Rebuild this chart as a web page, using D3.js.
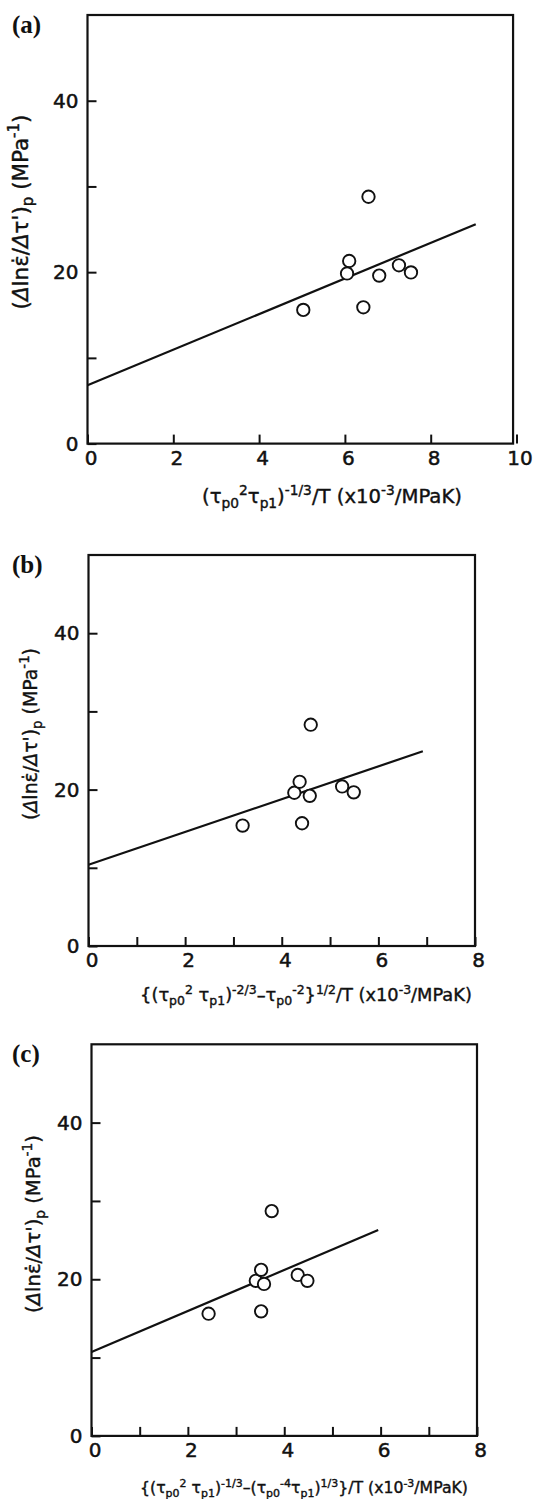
<!DOCTYPE html>
<html>
<head>
<meta charset="utf-8">
<script src="https://cdn.jsdelivr.net/npm/d3@7"></script>
<style>
  html, body { margin: 0; padding: 0; background: #fff; }
  svg { display: block; }
  .tick text { font-family: "DejaVu Sans", sans-serif; font-size: 20px; fill: #111; stroke: #111; stroke-width: 0.5px; }
  .tick line { stroke: #111; stroke-width: 2; }
  .title { stroke: #111; stroke-width: 0.4px; }
</style>
</head>
<body>
<div id="chart"></div>
<script>
// panel (a)
const xA = [5.03, 6.10, 6.05, 6.43, 6.55, 6.80, 7.26, 7.54];
const yA = [15.6, 21.3, 19.85, 15.9, 28.8, 19.6, 20.8, 19.97];
const fitXA = [0, 9.05];
const fitYA = [6.8, 25.6];

// panel (b)
const xB = [3.19, 4.26, 4.37, 4.58, 4.42, 4.60, 5.25, 5.49];
const yB = [15.4, 19.6, 21.0, 19.2, 15.7, 28.3, 20.4, 19.65];
const fitXB = [0, 6.92];
const fitYB = [10.4, 24.9];

// panel (c)
const xC = [2.43, 3.52, 3.41, 3.52, 3.58, 3.74, 4.28, 4.48];
const yC = [15.6, 15.9, 19.8, 21.2, 19.4, 28.7, 20.55, 19.8];
const fitXC = [0, 5.95];
const fitYC = [10.7, 26.3];

// ticks
const xTicksA = [0, 2, 4, 6, 8, 10];
const xTicksBC = [0, 1, 2, 3, 4, 5, 6, 7, 8];
const yTicks = [0, 10, 20, 30, 40];
const yTickLabels = [0, 20, 40];
const yTop = 50;

// axis titles as [text, kind] runs
const yTitle = [["(", ""], ["Δ", "i"], ["lnε̇/", ""], ["Δ", "i"], ["τ'", ""], [")", ""], ["p", "sub"], [" (MPa", ""], ["-1", "sup"], [")", ""]];
const xTitleA = [["(τ", ""], ["p0", "sub"], ["2", "sup"], ["τ", ""], ["p1", "sub"], [")", ""], ["-1/3", "sup"], ["/T (x10", ""], ["-3", "sup"], ["/MPaK)", ""]];
const xTitleB = [["{(τ", ""], ["p0", "sub"], ["2", "sup"], [" τ", ""], ["p1", "sub"], [")", ""], ["-2/3", "sup"], ["–τ", ""], ["p0", "sub"], ["-2", "sup"], ["}", ""], ["1/2", "sup"], ["/T (x10", ""], ["-3", "sup"], ["/MPaK)", ""]];
const xTitleC = [["{(τ", ""], ["p0", "sub"], ["2", "sup"], [" τ", ""], ["p1", "sub"], [")", ""], ["-1/3", "sup"], ["–(τ", ""], ["p0", "sub"], ["-4", "sup"], ["τ", ""], ["p1", "sub"], [")", ""], ["1/3", "sup"], ["}/T (x10", ""], ["-3", "sup"], ["/MPaK)", ""]];

const panels = [
  { tag: "(a)", xs: xA, ys: yA, fx: fitXA, fy: fitYA, xMax: 10, frameXMax: 9.92, xTicks: xTicksA,
    xr: [87.5, 516.5], yr: [443.6, 15], tagY: 33, yt: { x: 28, y: 212, len: 195 },
    xt: { x: 332, y: 503, len: 260, parts: xTitleA } },
  { tag: "(b)", xs: xB, ys: yB, fx: fitXB, fy: fitYB, xMax: 8, frameXMax: 8, xTicks: xTicksBC,
    xr: [88.5, 475], yr: [946, 555], tagY: 573, yt: { x: 37, y: 734, len: 172 },
    xt: { x: 306, y: 1001, len: 332, parts: xTitleB } },
  { tag: "(c)", xs: xC, ys: yC, fx: fitXC, fy: fitYC, xMax: 8, frameXMax: 8, xTicks: xTicksBC,
    xr: [91.5, 477], yr: [1435.9, 1044.3], tagY: 1062, yt: { x: 40, y: 1224, len: 178 },
    xt: { x: 304, y: 1493, len: 328, parts: xTitleC } }
];

const svg = d3.select("#chart").append("svg")
  .attr("width", 536)
  .attr("height", 1499);

function richText(g, parts, fs) {
  g.selectAll("tspan").remove();
  let cur = 0;
  parts.forEach(([str, kind]) => {
    const small = kind === "sub" || kind === "sup";
    const target = kind === "sub" ? 0.25 * fs : kind === "sup" ? -0.4 * fs : 0;
    const ts = g.append("tspan")
      .attr("dy", target - cur)
      .attr("font-size", small ? fs * 0.7 : fs)
      .text(str);
    if (kind === "i") ts.attr("font-style", "italic");
    cur = target;
  });
}

// draw text at a trial size, then rescale so it spans the wanted length
function fitText(g, parts, len) {
  richText(g, parts, 18);
  const w = g.node().getComputedTextLength();
  richText(g, parts, 18 * len / w);
}

panels.forEach(p => {
  const x = d3.scaleLinear().domain([0, p.xMax]).range(p.xr);
  const y = d3.scaleLinear().domain([0, yTop]).range(p.yr);
  const g = svg.append("g");

  // x axis, ticks pointing into the frame
  g.append("g")
    .attr("transform", `translate(0, ${y(0)})`)
    .call(d3.axisBottom(x)
      .tickValues(p.xTicks)
      .tickSize(-9)
      .tickPadding(7)
      .tickFormat(d => d % 2 === 0 ? d : ""))
    .call(a => a.select(".domain").remove())
    .call(a => a.selectAll(".tick text").attr("dx", 3));

  // y axis
  g.append("g")
    .attr("transform", `translate(${x(0)}, 0)`)
    .call(d3.axisLeft(y)
      .tickValues(yTicks)
      .tickSize(-9)
      .tickPadding(9)
      .tickFormat(d => yTickLabels.includes(d) ? d : ""))
    .call(a => a.select(".domain").remove());

  // frame
  g.append("rect")
    .attr("x", x(0))
    .attr("y", y(yTop))
    .attr("width", x(p.frameXMax) - x(0))
    .attr("height", y(0) - y(yTop))
    .attr("fill", "none")
    .attr("stroke", "#111")
    .attr("stroke-width", 2.2);

  // fitted line
  const line = d3.line().x(d => x(d[0])).y(d => y(d[1]));
  g.append("path")
    .datum(d3.zip(p.fx, p.fy))
    .attr("d", line)
    .attr("fill", "none")
    .attr("stroke", "#111")
    .attr("stroke-width", 2.2);

  // data points
  g.selectAll(".pt")
    .data(d3.zip(p.xs, p.ys))
    .enter()
    .append("circle")
    .attr("class", "pt")
    .attr("cx", d => x(d[0]))
    .attr("cy", d => y(d[1]))
    .attr("r", 6.2)
    .attr("fill", "#fff")
    .attr("stroke", "#111")
    .attr("stroke-width", 1.9);

  // panel tag
  g.append("text")
    .attr("x", 12)
    .attr("y", p.tagY)
    .attr("font-family", "'Liberation Serif', 'Times New Roman', serif")
    .attr("font-weight", "bold")
    .attr("font-size", 25)
    .attr("fill", "#111")
    .text(p.tag);

  // y title
  const yt = g.append("text")
    .attr("class", "title")
    .attr("transform", `translate(${p.yt.x}, ${p.yt.y}) rotate(-90)`)
    .attr("text-anchor", "middle")
    .attr("font-family", "'DejaVu Sans', sans-serif")
    .attr("fill", "#111");
  fitText(yt, yTitle, p.yt.len);

  // x title
  const xt = g.append("text")
    .attr("class", "title")
    .attr("x", p.xt.x)
    .attr("y", p.xt.y)
    .attr("text-anchor", "middle")
    .attr("font-family", "'DejaVu Sans', sans-serif")
    .attr("fill", "#111");
  fitText(xt, p.xt.parts, p.xt.len);
});
</script>
</body>
</html>
